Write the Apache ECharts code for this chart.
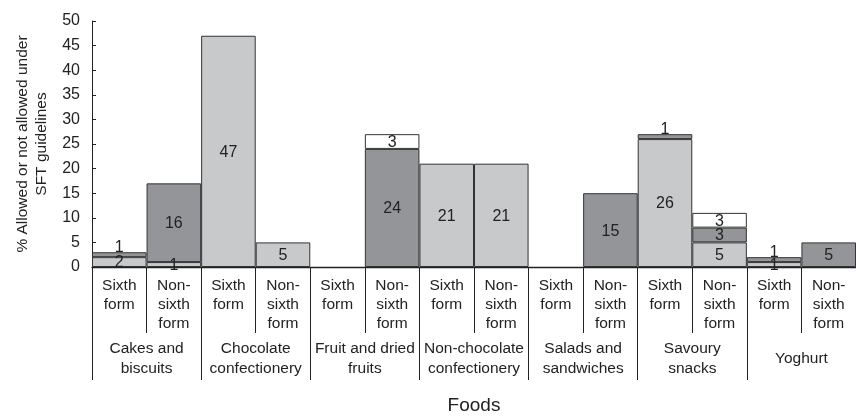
<!DOCTYPE html>
<html>
<head>
<meta charset="utf-8">
<script src="https://cdn.jsdelivr.net/npm/echarts@6/dist/echarts.min.js"></script>
<style>html,body{margin:0;padding:0;background:#fff;}#c{width:856px;height:420px;}</style>
</head>
<body>
<div id="c"></div>
<script>
var categories = ["Sixth\nform","Non-\nsixth\nform","Sixth\nform","Non-\nsixth\nform","Sixth\nform","Non-\nsixth\nform","Sixth\nform","Non-\nsixth\nform","Sixth\nform","Non-\nsixth\nform","Sixth\nform","Non-\nsixth\nform","Sixth\nform","Non-\nsixth\nform"];
var groups = ["Cakes and\nbiscuits","Chocolate\nconfectionery","Fruit and dried\nfruits","Non-chocolate\nconfectionery","Salads and\nsandwiches","Savoury\nsnacks","Yoghurt"];
var lightValues = [2, 1, 47, 5, 0, 0, 21, 21, 0, 0, 26, 5, 1, 0];
var darkValues  = [1, 16, 0, 0, 0, 24, 0, 0, 0, 15, 1, 3, 1, 5];
var whiteValues = [0, 0, 0, 0, 0, 3, 0, 0, 0, 0, 0, 3, 0, 0];
var yTicks = [0, 5, 10, 15, 20, 25, 30, 35, 40, 45, 50];

var FONT = "Liberation Sans, Arial, sans-serif";
var TXT = "#222";
var EDGE = "#333";

function build(vals, topSmall) {
  return vals.map(function (v) {
    if (!v) return null;
    if (topSmall && v <= 1) {
      return { value: v, label: { position: "top", distance: -2 } };
    }
    return v;
  });
}

function mkSeries(name, vals, color, topSmall) {
  return {
    name: name, type: "bar", stack: "s",
    barCategoryGap: 0, barGap: 0,
    data: build(vals, topSmall),
    itemStyle: { color: color, borderColor: EDGE, borderWidth: 1 },
    label: { show: true, position: "inside", color: TXT, fontFamily: FONT, fontSize: 16, offset: [0, 1] },
    animation: false
  };
}

var chart = echarts.init(document.getElementById("c"), null, { renderer: "canvas" });
chart.setOption({
  backgroundColor: "#fff",
  animation: false,
  grid: { left: 92, top: 21, height: 252, width: 770 },
  xAxis: [
    {
      type: "category", data: categories, position: "bottom",
      axisLine: { show: true, lineStyle: { color: TXT, width: 1.3 } },
      axisTick: { show: true, interval: 0, alignWithLabel: false, length: 66, lineStyle: { color: TXT } },
      axisLabel: { interval: 0, margin: 9, color: TXT, fontFamily: FONT, fontSize: 15.5, lineHeight: 19 },
      splitLine: { show: false }
    },
    {
      type: "category", data: groups, position: "bottom",
      axisLine: { show: false },
      axisTick: { show: true, interval: 0, alignWithLabel: false, length: 113, lineStyle: { color: TXT } },
      axisLabel: { interval: 0, margin: 92, verticalAlign: "middle", color: TXT, fontFamily: FONT, fontSize: 15.5, lineHeight: 20 },
      name: "Foods", nameLocation: "middle", nameGap: 129,
      nameTextStyle: { color: TXT, fontFamily: FONT, fontSize: 19 },
      splitLine: { show: false }
    }
  ],
  yAxis: {
    type: "value", min: yTicks[0], max: yTicks[yTicks.length - 1], interval: 5,
    axisLine: { show: true, lineStyle: { color: TXT } },
    axisTick: { show: true, inside: true, length: 4, lineStyle: { color: TXT } },
    axisLabel: { color: TXT, fontFamily: FONT, fontSize: 16, margin: 12 },
    splitLine: { show: false },
    name: "% Allowed or not allowed under\nSFT guidelines",
    nameLocation: "middle", nameGap: 40,
    nameTextStyle: { color: TXT, fontFamily: FONT, fontSize: 15.5, lineHeight: 19 }
  },
  series: [
    mkSeries("light", lightValues, "#c8c9cb", false),
    mkSeries("dark", darkValues, "#949599", true),
    mkSeries("white", whiteValues, "#ffffff", false)
  ]
});
</script>
</body>
</html>
